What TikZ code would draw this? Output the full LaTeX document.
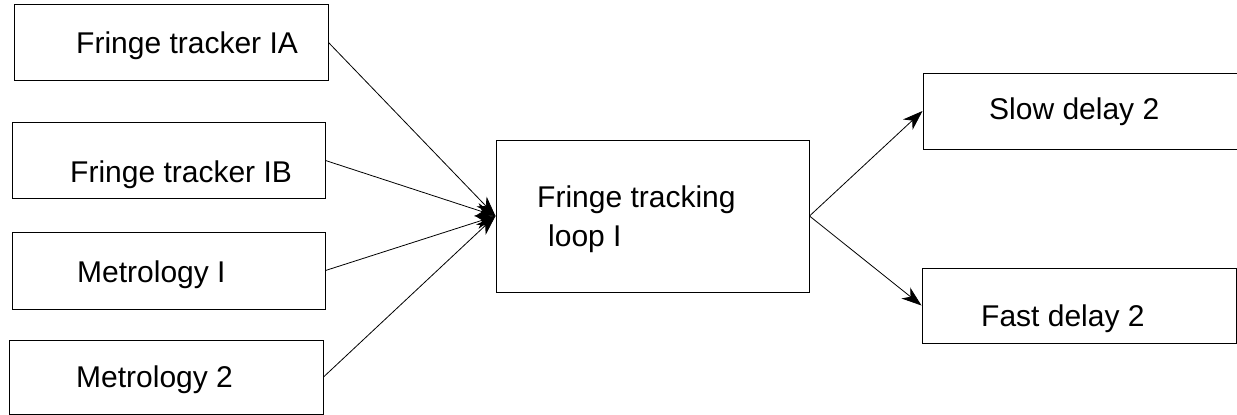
\documentclass[tikz,border=0pt]{standalone}
\usepackage{fontspec}
\setmainfont{Liberation Sans}
\usetikzlibrary{arrows.meta}
\begin{document}
\begin{tikzpicture}[x=1pt,y=-1pt,
  box/.style={draw,line width=1pt,minimum width=#1,minimum height=76pt,inner sep=0pt},
  lbl/.style={anchor=base west,inner sep=0pt,font=\fontsize{30}{35}\selectfont},
  conn/.style={line width=0.8pt,-{Stealth[length=20pt,width=14pt,inset=6pt]}}]
\useasboundingbox (0,0) rectangle (1237,415);
\node[box=314pt] (b1) at (171,42.5) {};
\node[box=313pt] (b2) at (168.5,160.5) {};
\node[box=313pt,minimum height=77pt] (b3) at (168.5,270.5) {};
\node[box=314pt,minimum height=74pt] (b4) at (166,377) {};
\node[box=313pt,minimum height=152pt] (c) at (652.5,216) {};
\node[box=314pt] (s) at (1080,111) {};
\node[box=314pt,minimum height=75pt] (f) at (1079,305.5) {};
\node[lbl] (t1) at (76,53) {Fringe tracker IA};
\node[lbl] (t2) at (70,182) {Fringe tracker IB};
\node[lbl] (t3) at (77,282) {Metrology I};
\node[lbl] (t4) at (76,387) {Metrology 2};
\node[lbl] (tc1) at (537,207) {Fringe tracking};
\node[lbl] (tc2) at (548,246) {loop I};
\node[lbl] (ts) at (989,119) {Slow delay 2};
\node[lbl] (tf) at (981,326) {Fast delay 2};
\draw[conn] (b1.east) -- (c.west);
\draw[conn] (b2.east) -- (c.west);
\draw[conn] (b3.east) -- (c.west);
\draw[conn] (b4.east) -- (c.west);
\draw[conn] (c.east) -- (s.west);
\draw[conn] (c.east) -- (f.west);
\end{tikzpicture}
\end{document}
